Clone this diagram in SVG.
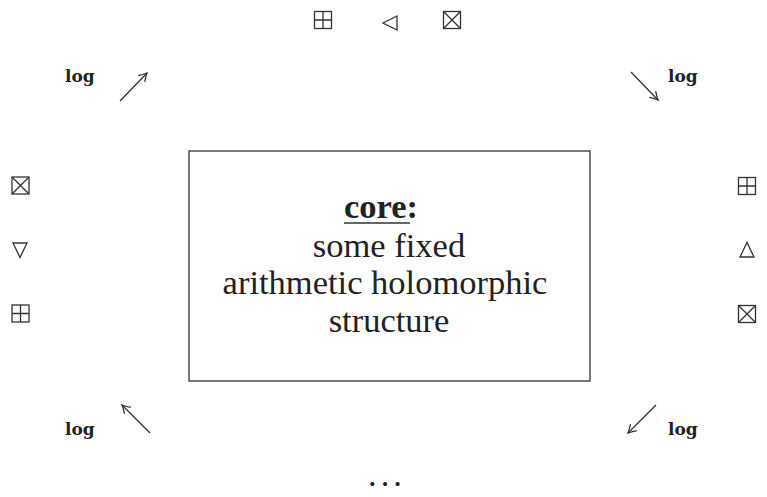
<svg xmlns="http://www.w3.org/2000/svg" width="767" height="497" viewBox="0 0 767 497">
  <style>
    .core { font-family: "Liberation Serif", "Times New Roman", serif; font-size: 34.5px; fill: #222; text-anchor: middle; }
    .core-b { font-weight: bold; }
    .lg { font-family: "DejaVu Serif", "Liberation Serif", serif; font-size: 17px; font-weight: bold; fill: #222; }
    .glyph { stroke: #333; stroke-width: 1.3; fill: none; }
    .edge { stroke: #333; stroke-width: 1.3; fill: none; marker-end: url(#head); }
  </style>
  <defs>
    <marker id="head" viewBox="-10 -6 12 12" refX="0" refY="0" markerWidth="12" markerHeight="12" markerUnits="userSpaceOnUse" orient="auto">
      <path d="M -8,-4.5 Q -3,-1.2 0,0 Q -3,1.2 -8,4.5" stroke="#333" stroke-width="1.3" fill="none"/>
    </marker>
    <!-- squared plus -->
    <g id="boxplus" class="glyph">
      <rect x="-8.5" y="-8.5" width="17" height="17"/>
      <path d="M 0,-8.5 V 8.5 M -8.5,0 H 8.5"/>
    </g>
    <!-- squared times -->
    <g id="boxtimes" class="glyph">
      <rect x="-8.5" y="-8.5" width="17" height="17"/>
      <path d="M -8.5,-8.5 L 8.5,8.5 M 8.5,-8.5 L -8.5,8.5"/>
    </g>
    <path id="tri-left" class="glyph" d="M 7,-7 L -7,0 L 7,7 Z"/>
    <path id="tri-down" class="glyph" d="M -7,-7 L 7,-7 L 0,7.5 Z"/>
    <path id="tri-up" class="glyph" d="M -7,7 L 7,7 L 0,-7.5 Z"/>
  </defs>

  <rect width="767" height="497" fill="#fff"/>

  <!-- central box -->
  <g id="core">
    <rect x="189" y="151" width="401" height="230" fill="none" stroke="#333" stroke-width="1.3"/>
    <text class="core core-b" x="381" y="218">core:</text>
    <line x1="344" y1="223" x2="410" y2="223" stroke="#333" stroke-width="1.3"/>
    <text class="core" x="389" y="257">some fixed</text>
    <text class="core" x="385" y="294">arithmetic holomorphic</text>
    <text class="core" x="389" y="332">structure</text>
  </g>

  <!-- top row -->
  <g id="top">
    <use href="#boxplus" x="323" y="20"/>
    <use href="#tri-left" x="390" y="23"/>
    <use href="#boxtimes" x="452" y="20"/>
  </g>

  <!-- left column -->
  <g id="left">
    <use href="#boxtimes" x="20.5" y="185.5"/>
    <use href="#tri-down" x="20" y="250"/>
    <use href="#boxplus" x="20.5" y="313.5"/>
  </g>

  <!-- right column -->
  <g id="right">
    <use href="#boxplus" x="747" y="186"/>
    <use href="#tri-up" x="747" y="250"/>
    <use href="#boxtimes" x="747" y="314"/>
  </g>

  <!-- bottom -->
  <g id="bottom">
    <text class="core" x="387" y="486" letter-spacing="4">...</text>
  </g>

  <!-- log labels -->
  <g id="log-tl"><text class="lg" x="65" y="82">log</text></g>
  <g id="log-tr"><text class="lg" x="668" y="82">log</text></g>
  <g id="log-bl"><text class="lg" x="65" y="435">log</text></g>
  <g id="log-br"><text class="lg" x="668" y="435">log</text></g>

  <!-- connectors -->
  <g id="connectors">
    <line class="edge" x1="120" y1="101" x2="147" y2="73"/>
    <line class="edge" x1="631" y1="72" x2="658" y2="100"/>
    <line class="edge" x1="150" y1="433" x2="122" y2="405"/>
    <line class="edge" x1="656" y1="405" x2="628" y2="433"/>
  </g>
</svg>
